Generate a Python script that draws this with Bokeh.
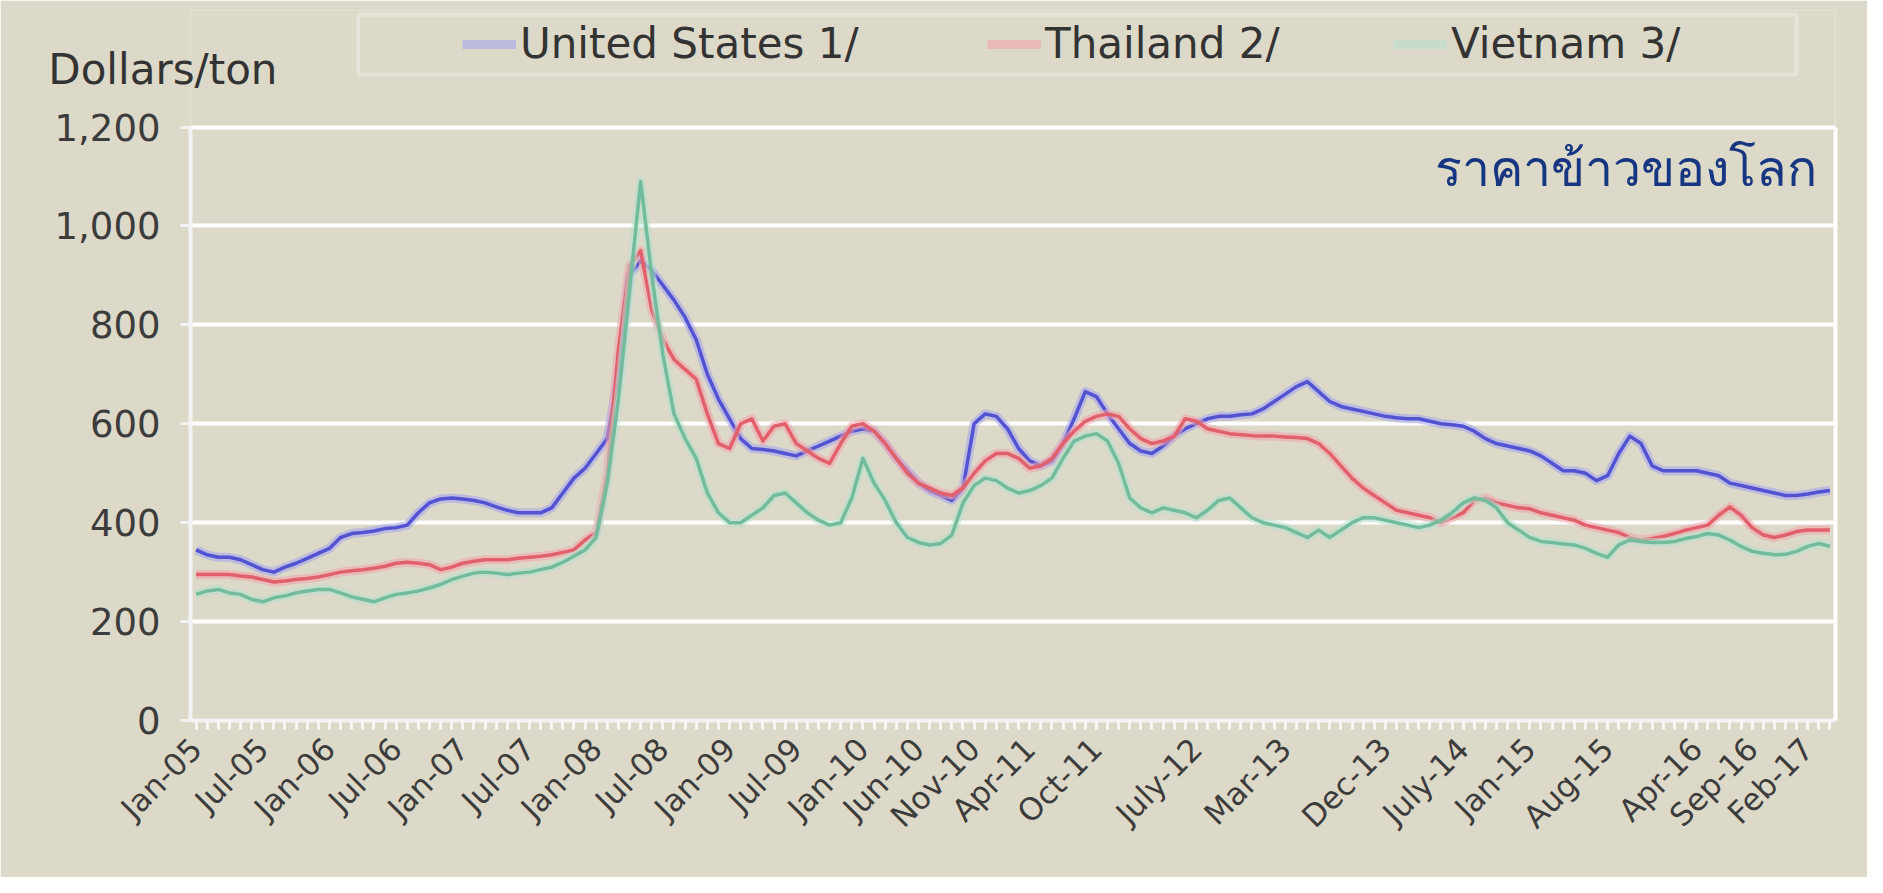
import math
from bokeh.plotting import figure
from bokeh.models import (Range1d, FixedTicker, NumeralTickFormatter, Legend, LegendItem,
                          Label, BoxAnnotation, ColumnDataSource, LinearAxis)
from bokeh.embed import file_html
from bokeh.resources import INLINE

# ---------------- data (monthly, Jan-05 .. Apr-17) ----------------
month_index = list(range(148))

tick_index = [0, 6, 12, 18, 24, 30, 36, 42, 48, 54, 60, 65, 70, 75, 81, 90, 98, 107, 114, 120, 127, 135, 140, 145]
tick_labels = ["Jan-05", "Jul-05", "Jan-06", "Jul-06", "Jan-07", "Jul-07", "Jan-08", "Jul-08", "Jan-09", "Jul-09",
               "Jan-10", "Jun-10", "Nov-10", "Apr-11", "Oct-11", "July-12", "Mar-13", "Dec-13", "July-14", "Jan-15",
               "Aug-15", "Apr-16", "Sep-16", "Feb-17"]

y_ticks = [0, 200, 400, 600, 800, 1000, 1200]

us_price = [345, 335, 330, 330, 325, 315, 305, 300, 310, 318, 328, 338, 348, 370, 378, 380, 383, 388, 390, 395,
            420, 440, 448, 450, 448, 445, 440, 432, 425, 420, 420, 420, 430, 460, 490, 510, 540, 570, 700, 900,
            930, 910, 880, 850, 815, 770, 700, 650, 610, 570, 550, 548, 545, 540, 535, 545, 555, 565, 575, 585,
            590, 585, 560, 530, 505, 480, 465, 455, 445, 470, 600, 620, 615, 590, 550, 525, 515, 525, 560, 610,
            665, 655, 620, 590, 560, 545, 540, 555, 575, 590, 600, 610, 615, 615, 618, 620, 630, 645, 660, 675,
            685, 665, 645, 635, 630, 625, 620, 615, 612, 610, 610, 605, 600, 598, 595, 585, 570, 560, 555, 550,
            545, 535, 520, 505, 505, 500, 485, 495, 540, 575, 560, 515, 505, 505, 505, 505, 500, 495, 480, 475,
            470, 465, 460, 455, 455, 458, 462, 465]

thai_price = [295, 295, 295, 295, 292, 290, 285, 280, 282, 285, 287, 290, 295, 300, 303, 305, 308, 312, 318, 320,
              318, 315, 305, 310, 318, 322, 325, 325, 325, 328, 330, 332, 335, 340, 345, 365, 380, 500, 750, 920,
              950, 830, 770, 730, 710, 690, 620, 560, 550, 600, 610, 565, 595, 600, 560, 545, 530, 520, 560, 595,
              600, 585, 560, 530, 500, 480, 470, 460, 455, 470, 500, 525, 540, 540, 530, 510, 515, 530, 560, 585,
              605, 615, 620, 615, 590, 570, 560, 565, 575, 610, 605, 590, 585, 580, 578, 576, 575, 575, 573, 572,
              570, 560, 540, 515, 490, 470, 455, 440, 425, 420, 415, 410, 400, 410, 420, 445, 450, 440, 435, 430,
              428, 420, 415, 410, 405, 395, 390, 385, 380, 370, 365, 368, 372, 378, 385, 390, 395, 415, 432, 415,
              390, 375, 370, 375, 382, 385, 385, 385]

vietnam_price = [255, 262, 265, 258, 255, 245, 240, 248, 252, 258, 262, 265, 265, 258, 250, 245, 240, 248, 255, 258,
                 262, 268, 275, 285, 292, 298, 300, 298, 295, 298, 300, 305, 310, 320, 332, 345, 370, 480, 650, 870,
                 1090, 900, 740, 620, 570, 530, 460, 420, 400, 400, 415, 430, 455, 460, 440, 420, 405, 395, 400, 450,
                 530, 480, 445, 400, 370, 360, 355, 358, 375, 440, 475, 490, 485, 470, 460, 465, 475, 490, 530, 565,
                 575, 580, 565, 520, 450, 430, 420, 430, 425, 420, 410, 425, 445, 450, 430, 410, 400, 395, 390, 380,
                 370, 385, 370, 385, 400, 410, 410, 405, 400, 395, 390, 395, 405, 420, 440, 450, 445, 430, 400, 385,
                 370, 362, 360, 357, 355, 348, 338, 330, 355, 365, 362, 360, 360, 362, 368, 372, 378, 375, 365, 352,
                 342, 338, 335, 336, 342, 352, 358, 352]

series_names = ["United States 1/", "Thailand 2/", "Vietnam 3/"]
y_label = "Dollars/ton"
chart_title = "ราคาข้าวของโลก"

# ---------------- styling ----------------
BG = "#dcd9c8"
FONT = "DejaVu Sans"
core_colors = ["#5252d2", "#e2606c", "#72bc9c"]
halo_colors = ["#a2a2ee", "#f4a2aa", "#b6e0cf"]

src = ColumnDataSource(dict(x=month_index, us=us_price, th=thai_price, vn=vietnam_price))

# frame extends above the 1,200 line so the legend is not clipped
p = figure(width=1867, height=877, output_backend="svg", toolbar_location=None,
           x_range=Range1d(-0.5, 147.5), y_range=Range1d(0, 1435.6),
           min_border_left=190, min_border_right=32, min_border_top=10, min_border_bottom=157)
p.background_fill_color = BG
p.border_fill_color = BG
p.outline_line_color = None

p.ygrid.grid_line_color = "white"
p.ygrid.grid_line_width = 4
p.ygrid.ticker = FixedTicker(ticks=y_ticks)
p.xgrid.grid_line_color = None

p.yaxis.ticker = FixedTicker(ticks=y_ticks)
p.yaxis.bounds = (0, 1200)
p.yaxis.formatter = NumeralTickFormatter(format="0,0")
p.yaxis.axis_line_color = "#f2f2f2"
p.yaxis.axis_line_width = 4
p.yaxis.major_tick_out = 10
p.yaxis.major_tick_in = 0
p.yaxis.major_tick_line_color = "#f2f2f2"
p.yaxis.major_tick_line_width = 3
p.yaxis.minor_tick_line_color = None
p.yaxis.major_label_text_font = FONT
p.yaxis.major_label_text_font_size = "37px"
p.yaxis.major_label_text_color = "#3c3c3c"
p.yaxis.major_label_standoff = 20

# unit label: the single tick label of a bare axis above the 1,200 level
unit_tick = 1317
unit_axis = LinearAxis(ticker=FixedTicker(ticks=[unit_tick]), bounds=(1267, 1367),
                       major_label_overrides={unit_tick: y_label},
                       axis_line_color=None, major_tick_line_color=None, minor_tick_line_color=None,
                       major_label_text_font=FONT, major_label_text_font_size="42px",
                       major_label_text_color="#333333", major_label_standoff=-232)
p.add_layout(unit_axis, "left")

# right border of the plot area
right_axis = LinearAxis(ticker=FixedTicker(ticks=y_ticks), bounds=(0, 1200),
                        axis_line_color="white", axis_line_width=4,
                        major_tick_line_color=None, minor_tick_line_color=None,
                        major_label_text_alpha=0, major_label_text_font_size="1px")
p.add_layout(right_axis, "right")

p.xaxis.ticker = FixedTicker(ticks=tick_index, minor_ticks=month_index)
p.xaxis.major_label_overrides = {i: l for i, l in zip(tick_index, tick_labels)}
p.xaxis.major_label_orientation = math.pi / 4
p.xaxis.axis_line_color = "#f2f2f2"
p.xaxis.axis_line_width = 4
p.xaxis.major_tick_out = 9
p.xaxis.major_tick_in = 0
p.xaxis.minor_tick_out = 9
p.xaxis.minor_tick_in = 0
p.xaxis.major_tick_line_color = "#f6f6f6"
p.xaxis.minor_tick_line_color = "#f6f6f6"
p.xaxis.major_tick_line_width = 3
p.xaxis.minor_tick_line_width = 3
p.xaxis.major_label_text_font = FONT
p.xaxis.major_label_text_font_size = "31px"
p.xaxis.major_label_text_color = "#3c3c3c"
p.xaxis.major_label_standoff = 14

keys = ["us", "th", "vn"]
halos = []
for k, cc, hc in zip(keys, core_colors, halo_colors):
    h = p.line("x", k, source=src, line_color=hc, line_width=9, line_alpha=0.55, line_join="round")
    p.line("x", k, source=src, line_color=cc, line_width=3.5, line_join="round")
    halos.append(h)

# legend box
p.add_layout(BoxAnnotation(left=14.6, right=144.0, bottom=1306, top=1427,
                           fill_color=BG, fill_alpha=1.0, line_color="white", line_width=4, level="overlay"))

legend_x = [272, 797, 1203]
for name, h, lx in zip(series_names, halos, legend_x):
    lg = Legend(items=[LegendItem(label=name, renderers=[h])], location=(lx, 652),
                orientation="horizontal", padding=6, border_line_color=None,
                background_fill_alpha=0, label_text_font=FONT, label_text_font_size="42px",
                label_text_color="#333333", glyph_width=54, glyph_height=16, label_standoff=4)
    p.add_layout(lg, "center")

p.add_layout(Label(x=145.85, y=1050, text=chart_title, text_font="Noto Sans", text_font_size="50px",
                   text_color="#163682", text_align="right", text_baseline="bottom"))

open("out.html", "w").write(file_html(p, INLINE))
